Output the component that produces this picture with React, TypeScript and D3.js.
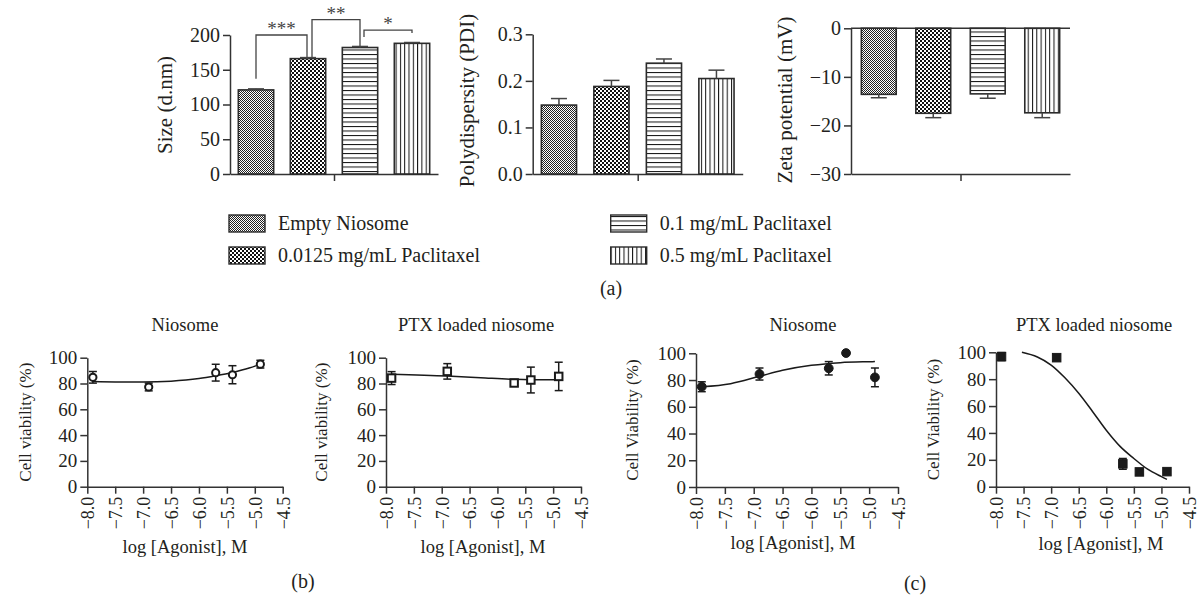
import * as d3 from 'd3';
import { useEffect, useRef } from 'react';

// (a) size / PDI / zeta of the four formulations
const groups = ['Empty Niosome', '0.0125 mg/mL Paclitaxel', '0.1 mg/mL Paclitaxel', '0.5 mg/mL Paclitaxel'];
const sizeMean = [121, 166, 182, 188];
const sizeErr = [1.5, 1.5, 1.5, 1.2];
const pdiMean = [0.148, 0.188, 0.238, 0.205];
const pdiErr = [0.014, 0.013, 0.009, 0.018];
const zetaMean = [-13.6, -17.5, -13.5, -17.4];
const zetaErr = [0.7, 0.9, 0.9, 1.0];
const sizeTicks = [0, 50, 100, 150, 200];
const pdiTicks = [0, 0.1, 0.2, 0.3];
const zetaTicks = [0, -10, -20, -30];

// significance brackets on the size panel (heights in d.nm)
const sigLabels = ['***', '**', '*'];
const sigFrom = [0, 1, 2];
const sigTo = [1, 2, 3];
const sigFootFrom = [137, 167, 197];
const sigTop = [200, 222, 207];
const sigFootTo = [165, 183, 203];

// (b), (c) cell viability vs log dose
const logDose = [-7.9, -6.9, -5.7, -5.4, -4.9];
const nioB = [84.8, 77.3, 88.4, 86.8, 95.0];
const nioBErr = [4.5, 3.0, 6.5, 7.0, 3.0];
const ptxB = [84.2, 89.4, 80.4, 82.7, 85.5];
const ptxBErr = [5.0, 6.0, 2.5, 10.0, 11.0];
const nioC = [75.0, 84.5, 88.8, 100.2, 82.0];
const nioCErr = [3.7, 4.5, 5.0, 0, 7.0];
const ptxC = [96.8, 96.0, 17.0, 11.0, 11.2];
const ptxCErr = [3.0, 2.0, 4.0, 2.0, 1.0];

// fitted curves
const fitNioB = [[-7.9, 81.5], [-7.5, 81.2], [-7.0, 81.2], [-6.5, 81.8], [-6.0, 83.8], [-5.7, 86.0], [-5.4, 88.6], [-5.1, 92.0], [-4.9, 95.0]];
const fitPtxB = [[-7.9, 87.2], [-6.9, 85.8], [-6.3, 84.5], [-5.7, 83.2], [-5.4, 83.0], [-4.9, 83.0]];
const fitNioC = [[-7.9, 75.0], [-7.4, 77.3], [-6.9, 82.8], [-6.5, 87.3], [-6.0, 91.0], [-5.5, 93.0], [-5.0, 93.7], [-4.9, 93.8]];
const fitPtxC = [[-7.53, 100], [-7.25, 96.5], [-7.0, 90.5], [-6.75, 81], [-6.5, 69.5], [-6.25, 56], [-6.0, 42], [-5.75, 30], [-5.5, 21], [-5.25, 13], [-5.0, 7.5], [-4.9, 5.5]];

const doseTicks = [-8, -7.5, -7, -6.5, -6, -5.5, -5, -4.5];
const viabTicks = [0, 20, 40, 60, 80, 100];

const W = 1202;
const H = 597;
const FONT = "'Liberation Serif', 'Times New Roman', Times, serif";
const INK = '#231f20';
const LINE = '#333';

function addPatterns(svg) {
  const defs = svg.append('defs');
  // fine checker
  const p0 = defs.append('pattern').attr('id', 'pat0').attr('patternUnits', 'userSpaceOnUse').attr('width', 2).attr('height', 2);
  p0.append('rect').attr('width', 2).attr('height', 2).attr('fill', '#fff');
  p0.append('rect').attr('width', 1).attr('height', 1).attr('fill', '#222');
  p0.append('rect').attr('x', 1).attr('y', 1).attr('width', 1).attr('height', 1).attr('fill', '#222');
  // coarse checker
  const p1 = defs.append('pattern').attr('id', 'pat1').attr('patternUnits', 'userSpaceOnUse').attr('width', 4).attr('height', 4);
  p1.append('rect').attr('width', 4).attr('height', 4).attr('fill', '#fff');
  p1.append('rect').attr('width', 2).attr('height', 2).attr('fill', '#111');
  p1.append('rect').attr('x', 2).attr('y', 2).attr('width', 2).attr('height', 2).attr('fill', '#111');
  // horizontal lines
  const p2 = defs.append('pattern').attr('id', 'pat2').attr('patternUnits', 'userSpaceOnUse').attr('width', 4).attr('height', 4.5);
  p2.append('rect').attr('width', 4).attr('height', 4.5).attr('fill', '#fff');
  p2.append('rect').attr('width', 4).attr('height', 1).attr('fill', '#111');
  // vertical lines
  const p3 = defs.append('pattern').attr('id', 'pat3').attr('patternUnits', 'userSpaceOnUse').attr('width', 4.3).attr('height', 4);
  p3.append('rect').attr('width', 4.3).attr('height', 4).attr('fill', '#fff');
  p3.append('rect').attr('width', 1).attr('height', 4).attr('fill', '#111');
}

function styleAxis(ax, fs) {
  ax.attr('font-family', null).attr('font-size', null);
  ax.selectAll('text').style('font-family', FONT).style('font-size', `${fs}px`).attr('fill', INK);
  ax.select('.domain').attr('stroke', LINE).attr('stroke-width', 1.5);
  ax.selectAll('.tick line').attr('stroke', LINE).attr('stroke-width', 1.5);
}

function label(g, x, y, t, fs, rotate = false) {
  const el = g.append('text').attr('text-anchor', 'middle')
    .style('font-family', FONT).style('font-size', `${fs}px`).attr('fill', INK).text(t);
  if (rotate) el.attr('transform', `translate(${x},${y}) rotate(-90)`).attr('dy', '0.35em');
  else el.attr('x', x).attr('y', y);
  return el;
}

function barPanel(svg, o) {
  const g = svg.append('g');
  const x = d3.scaleBand().domain(groups).range([o.left, o.right]).paddingInner(o.pin).paddingOuter(o.pout);
  const y = d3.scaleLinear().domain(o.domain).range([o.bottom, o.top]);

  const ya = g.append('g').attr('transform', `translate(${o.left},0)`)
    .call(d3.axisLeft(y).tickValues(o.ticks).tickFormat(o.fmt).tickSize(7).tickSizeOuter(0).tickPadding(3));
  styleAxis(ya, 20);

  const xa = g.append('g').attr('transform', `translate(0,${y(o.domain[0])})`)
    .call(d3.axisBottom(d3.scalePoint().domain(['c']).range([o.left, o.right]).padding(0.5))
      .tickSize(7).tickSizeOuter(0).tickFormat(() => ''));
  styleAxis(xa, 20);

  if (o.domain[1] === 0) {
    g.append('line').attr('x1', o.left).attr('x2', o.right).attr('y1', y(0)).attr('y2', y(0))
      .attr('stroke', LINE).attr('stroke-width', 1.5);
  }

  g.selectAll('rect.bar').data(o.values).join('rect').attr('class', 'bar')
    .attr('x', (d, i) => x(groups[i]))
    .attr('y', d => Math.min(y(d), y(0)))
    .attr('width', x.bandwidth())
    .attr('height', d => Math.abs(y(d) - y(0)))
    .attr('fill', (d, i) => `url(#pat${i})`)
    .attr('stroke', '#2b2b2b').attr('stroke-width', 1.6);

  o.values.forEach((v, i) => {
    const cx = x(groups[i]) + x.bandwidth() / 2;
    const end = v >= 0 ? v + o.errs[i] : v - o.errs[i];
    g.append('line').attr('x1', cx).attr('x2', cx).attr('y1', y(v)).attr('y2', y(end))
      .attr('stroke', '#444').attr('stroke-width', 1.5);
    g.append('line').attr('x1', cx - 8).attr('x2', cx + 8).attr('y1', y(end)).attr('y2', y(end))
      .attr('stroke', '#444').attr('stroke-width', 1.5);
  });

  label(g, o.labX, o.labY, o.label, 21, true);
  return { x, y, g };
}

function dosePanel(svg, o) {
  const g = svg.append('g');
  const x = d3.scaleLinear().domain([-8, -4.5]).range([o.left, o.right]);
  const y = d3.scaleLinear().domain([0, 100]).range([o.bottom, o.top]);

  const ya = g.append('g').attr('transform', `translate(${o.left},0)`)
    .call(d3.axisLeft(y).tickValues(viabTicks).tickSize(7).tickSizeOuter(0).tickPadding(3));
  styleAxis(ya, 19);

  const xa = g.append('g').attr('transform', `translate(0,${o.bottom})`)
    .call(d3.axisBottom(x).tickValues(doseTicks).tickFormat(d3.format('.1f')).tickSize(7).tickSizeOuter(0));
  styleAxis(xa, 18);
  xa.selectAll('.tick text')
    .attr('transform', 'rotate(-90)').attr('text-anchor', 'end')
    .attr('x', -10).attr('y', 0).attr('dy', '0.35em');

  const line = d3.line().x(d => x(d[0])).y(d => y(d[1])).curve(d3.curveMonotoneX);
  g.append('path').attr('d', line(o.fit)).attr('fill', 'none').attr('stroke', '#1a1a1a').attr('stroke-width', 1.5);

  logDose.forEach((d, i) => {
    const e = o.errs[i];
    if (e <= 0) return;
    const cx = x(d);
    g.append('line').attr('x1', cx).attr('x2', cx).attr('y1', y(o.mean[i] - e)).attr('y2', y(o.mean[i] + e))
      .attr('stroke', '#1a1a1a').attr('stroke-width', 1.5);
    [o.mean[i] - e, o.mean[i] + e].forEach(v => {
      g.append('line').attr('x1', cx - 4).attr('x2', cx + 4).attr('y1', y(v)).attr('y2', y(v))
        .attr('stroke', '#1a1a1a').attr('stroke-width', 1.5);
    });
  });

  const open = o.marker.startsWith('open');
  const fill = open ? '#fff' : '#1a1a1a';
  if (o.marker.endsWith('circle')) {
    g.selectAll('circle.pt').data(o.mean).join('circle').attr('class', 'pt')
      .attr('cx', (d, i) => x(logDose[i])).attr('cy', d => y(d)).attr('r', open ? 3.6 : 4.4)
      .attr('fill', fill).attr('stroke', '#1a1a1a').attr('stroke-width', open ? 2 : 1);
  } else {
    const s = open ? 7.5 : 8.5;
    g.selectAll('rect.pt').data(o.mean).join('rect').attr('class', 'pt')
      .attr('x', (d, i) => x(logDose[i]) - s / 2).attr('y', d => y(d) - s / 2)
      .attr('width', s).attr('height', s)
      .attr('fill', fill).attr('stroke', '#1a1a1a').attr('stroke-width', open ? 2 : 1);
  }

  label(g, o.titleX, 331, o.title, 18.5);
  label(g, o.xlabX, o.xlabY, 'log [Agonist], M', 18.5);
  label(g, o.ylabX, (o.top + o.bottom) / 2, o.ylab, 17, true);
}

function App() {
  const chartRef = useRef(null);

  useEffect(() => {
    document.body.style.margin = '0';
    const svg = d3.select(chartRef.current);
    svg.selectAll('*').remove();
    addPatterns(svg);

    // (a) size with significance brackets
    const size = barPanel(svg, {
      left: 230, right: 438, top: 35, bottom: 174, pin: 0.32, pout: 0.16,
      domain: [0, 200], ticks: sizeTicks, fmt: d3.format('d'),
      values: sizeMean, errs: sizeErr, label: 'Size (d.nm)', labX: 165, labY: 105,
    });
    sigLabels.forEach((lab, k) => {
      const bw = size.x.bandwidth();
      const xa = size.x(groups[sigFrom[k]]) + bw / 2 + (k > 0 ? 4 : 0);
      const xb = size.x(groups[sigTo[k]]) + bw / 2 - (k === 0 ? 1 : 0);
      const yTop = size.y(sigTop[k]);
      size.g.append('path')
        .attr('d', `M${xa},${size.y(sigFootFrom[k])}V${yTop}H${xb}V${size.y(sigFootTo[k])}`)
        .attr('fill', 'none').attr('stroke', '#444').attr('stroke-width', 1.3);
      label(size.g, (xa + xb) / 2, yTop, lab, 19).attr('fill', '#444');
    });

    barPanel(svg, {
      left: 532.7, right: 742.7, top: 34.3, bottom: 174, pin: 0.33, pout: 0.165,
      domain: [0, 0.3], ticks: pdiTicks, fmt: d3.format('.1f'),
      values: pdiMean, errs: pdiErr, label: 'Polydispersity (PDI)', labX: 466.7, labY: 100.5,
    });

    barPanel(svg, {
      left: 851, right: 1070, top: 28.3, bottom: 174, pin: 0.36, pout: 0.19,
      domain: [-30, 0], ticks: zetaTicks, fmt: d3.format('d'),
      values: zetaMean, errs: zetaErr, label: 'Zeta potential (mV)', labX: 785, labY: 100,
    });

    // legend
    const lg = svg.append('g');
    groups.forEach((name, i) => {
      const bx = i < 2 ? 229 : 610.7;
      const by = i % 2 === 0 ? 215 : 247;
      lg.append('rect').attr('x', bx).attr('y', by).attr('width', 36).attr('height', 17)
        .attr('fill', `url(#pat${i})`).attr('stroke', '#2b2b2b').attr('stroke-width', 1.4);
      label(lg, bx + 49, by + 14.5, name, 20).attr('text-anchor', 'start');
    });

    // (b)
    dosePanel(svg, {
      left: 87.3, right: 282.7, top: 357.7, bottom: 486.7, mean: nioB, errs: nioBErr, fit: fitNioB,
      marker: 'opencircle', title: 'Niosome', titleX: 185, xlabX: 185, xlabY: 553,
      ylab: 'Cell viability (%)', ylabX: 25,
    });
    dosePanel(svg, {
      left: 386, right: 581, top: 357.7, bottom: 486.7, mean: ptxB, errs: ptxBErr, fit: fitPtxB,
      marker: 'opensquare', title: 'PTX loaded niosome', titleX: 476, xlabX: 483, xlabY: 553,
      ylab: 'Cell viability (%)', ylabX: 321.5,
    });
    // (c)
    dosePanel(svg, {
      left: 696, right: 898, top: 353.3, bottom: 487, mean: nioC, errs: nioCErr, fit: fitNioC,
      marker: 'filledcircle', title: 'Niosome', titleX: 803, xlabX: 793, xlabY: 549,
      ylab: 'Cell Viability (%)', ylabX: 631.7,
    });
    dosePanel(svg, {
      left: 996, right: 1189, top: 352.3, bottom: 486.7, mean: ptxC, errs: ptxCErr, fit: fitPtxC,
      marker: 'filledsquare', title: 'PTX loaded niosome', titleX: 1094, xlabX: 1101, xlabY: 549.5,
      ylab: 'Cell Viability (%)', ylabX: 933,
    });

    label(svg, 611, 295, '(a)', 20);
    label(svg, 303, 588, '(b)', 20);
    label(svg, 915, 590, '(c)', 20);
  }, []);

  return <svg ref={chartRef} width={W} height={H} style={{ display: 'block', background: '#fff' }} />;
}

export default App;
